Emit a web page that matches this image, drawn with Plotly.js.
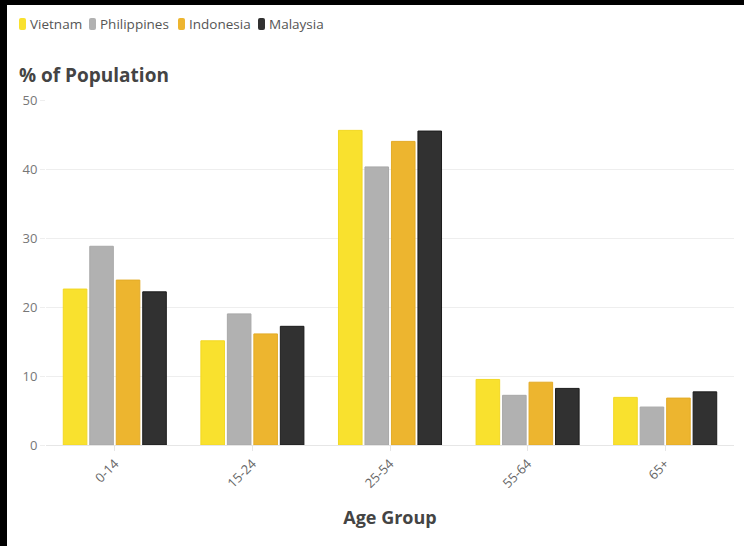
<!DOCTYPE html>
<html>
<head>
<meta charset="utf-8">
<script src="https://cdn.plot.ly/plotly-3.0.1.min.js"></script>
<style>
  html, body { margin: 0; padding: 0; background: #000; width: 744px; height: 546px; overflow: hidden; }
  #chart { position: absolute; left: 7px; top: 5px; width: 737px; height: 541px; background: #fff; }
</style>
</head>
<body>
<div id="chart"></div>
<script>
const ageGroups = ['0-14', '15-24', '25-54', '55-64', '65+'];
const countries = ['Vietnam', 'Philippines', 'Indonesia', 'Malaysia'];
const vietnam = [22.6, 15.1, 45.6, 9.5, 6.9];
const philippines = [28.8, 19.0, 40.3, 7.2, 5.5];
const indonesia = [23.9, 16.1, 44.0, 9.1, 6.8];
const malaysia = [22.2, 17.2, 45.5, 8.2, 7.7];
const yTicks = [0, 10, 20, 30, 40, 50];

const seriesValues = [vietnam, philippines, indonesia, malaysia];
const fillColors = ['#F9E12E', '#B1B1B1', '#EDB52F', '#313131'];
const lineColors = ['#F2D824', '#A9A9A9', '#E3AB27', '#1C1C1C'];

const W = 737, H = 541;
const FONT = '"Open Sans", "Liberation Sans", sans-serif';
const margin = { l: 39, r: 10, t: 95, b: 101 };

const traces = countries.map((name, i) => ({
  type: 'bar',
  name: name,
  x: ageGroups,
  y: seriesValues[i],
  marker: { color: fillColors[i], line: { color: lineColors[i], width: 1 } },
  showlegend: false,
  hoverinfo: 'x+y+name'
}));

// compact custom legend (rounded swatch + label), placed in div pixels
const legendX = [12, 82, 171, 251];   // swatch left edges
const legendYc = 19;                  // legend row centre
const pw = W - margin.l - margin.r, ph = H - margin.t - margin.b;
const toPX = v => (v - margin.l) / pw;
const toPY = v => (H - margin.b - v) / ph;
const shapes = [];
const annotations = [];
countries.forEach((name, i) => {
  const x0 = legendX[i], x1 = x0 + 7;
  const y0 = legendYc - 6, y1 = legendYc + 6;
  const r = 2;
  shapes.push({
    type: 'path', xref: 'paper', yref: 'paper',
    path: `M ${toPX(x0 + r)} ${toPY(y0)} L ${toPX(x1 - r)} ${toPY(y0)} Q ${toPX(x1)} ${toPY(y0)} ${toPX(x1)} ${toPY(y0 + r)} ` +
          `L ${toPX(x1)} ${toPY(y1 - r)} Q ${toPX(x1)} ${toPY(y1)} ${toPX(x1 - r)} ${toPY(y1)} L ${toPX(x0 + r)} ${toPY(y1)} ` +
          `Q ${toPX(x0)} ${toPY(y1)} ${toPX(x0)} ${toPY(y1 - r)} L ${toPX(x0)} ${toPY(y0 + r)} Q ${toPX(x0)} ${toPY(y0)} ${toPX(x0 + r)} ${toPY(y0)} Z`,
    fillcolor: fillColors[i], line: { width: 0 }
  });
  annotations.push({
    xref: 'paper', yref: 'paper',
    x: toPX(x1 + 2), y: toPY(legendYc),
    xanchor: 'left', yanchor: 'middle',
    text: name, showarrow: false,
    font: { family: FONT, size: 13.5, color: '#555' }
  });
});

const layout = {
  width: W, height: H,
  margin: margin,
  paper_bgcolor: '#ffffff',
  plot_bgcolor: '#ffffff',
  font: { family: FONT, color: '#666' },
  title: {
    text: '<b>% of Population</b>',
    xref: 'container', yref: 'container',
    x: 12 / W, xanchor: 'left',
    y: 1 - 70 / H, yanchor: 'middle',
    font: { family: FONT, size: 19, color: '#444' }
  },
  barmode: 'group',
  bargap: 0.23,
  bargroupgap: 0.11,
  xaxis: {
    type: 'category',
    tickangle: -45,
    tickfont: { family: FONT, size: 13, color: '#666' },
    ticks: 'outside', ticklen: 5, tickcolor: '#e6e6e6',
    showline: true, linecolor: '#e6e6e6', linewidth: 1,
    showgrid: false,
    title: { text: '<b>Age Group</b>', standoff: 20, font: { family: FONT, size: 18, color: '#444' } }
  },
  yaxis: {
    range: [0, 50],
    tickvals: yTicks,
    ticktext: yTicks.map(String),
    tickfont: { family: FONT, size: 13, color: '#777' },
    ticks: 'outside', ticklen: 5, tickcolor: '#eeeeee',
    showgrid: true, gridcolor: '#eeeeee', gridwidth: 1,
    zeroline: false,
    showline: false
  },
  shapes: shapes,
  annotations: annotations,
  showlegend: false
};

Plotly.newPlot('chart', traces, layout, { displayModeBar: false, staticPlot: true });
</script>
</body>
</html>
